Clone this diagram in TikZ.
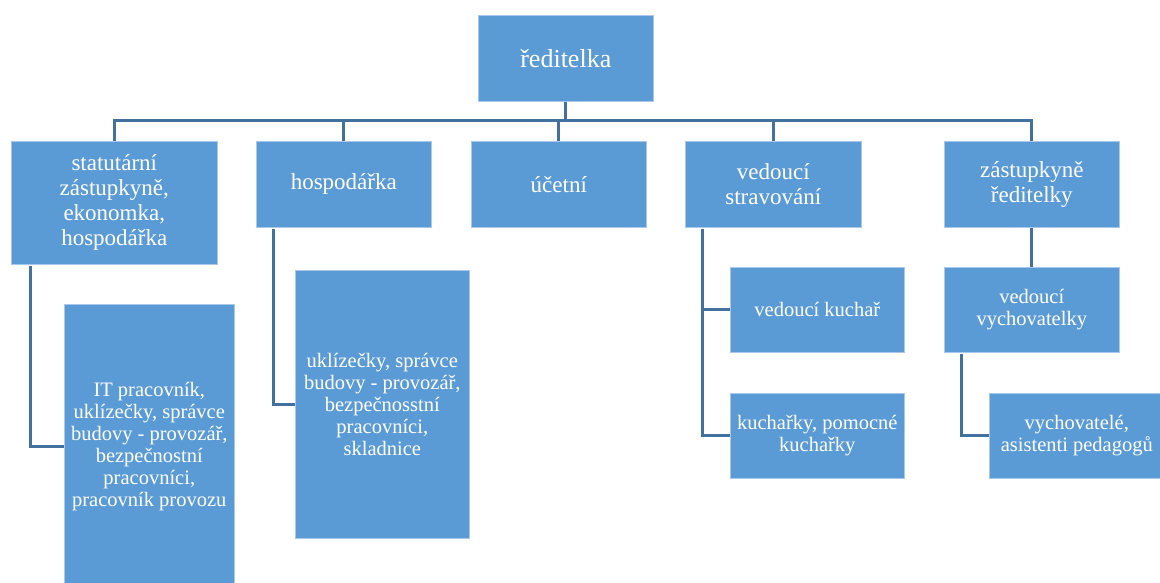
\documentclass[tikz,border=0pt]{standalone}
\usepackage{fontspec}
\setmainfont{Liberation Serif}
\definecolor{boxblue}{HTML}{5B9BD5}
\definecolor{lineblue}{HTML}{41719C}
\definecolor{edgeblue}{HTML}{A9C8EA}
\begin{document}
\begin{tikzpicture}[x=1pt,y=-1pt,
  box/.style={rectangle, fill=boxblue, draw=edgeblue, line width=0.6pt, inner sep=0pt,
    anchor=north west, align=center, text=white},
  rootfont/.style={font=\fontsize{26}{28}\selectfont},
  lvlone/.style={font=\fontsize{23}{25}\selectfont},
  lvltwo/.style={font=\fontsize{20.5}{22}\selectfont},
  conn/.style={draw=lineblue, line width=3pt}]
\useasboundingbox (0,0) rectangle (1160,583);
\clip (0,0) rectangle (1160,583);
% root
\node[box, rootfont, minimum width=175pt, minimum height=86pt] (root) at (478,15) {ředitelka};
% level 1
\node[box, lvlone, minimum width=206pt, minimum height=123pt] (stat) at (11,141) {statutární\\zástupkyně,\\ekonomka,\\hospodářka};
\node[box, lvlone, minimum width=175pt, minimum height=86pt] (hosp) at (256,141) {hospodářka};
\node[box, lvlone, minimum width=175pt, minimum height=86pt] (ucet) at (471,141) {účetní};
\node[box, lvlone, minimum width=176pt, minimum height=86pt] (strav) at (685,141) {vedoucí\\stravování};
\node[box, lvlone, minimum width=175pt, minimum height=86pt] (zast) at (944,141) {zástupkyně\\ředitelky};
% level 2
\node[box, lvltwo, minimum width=170pt, minimum height=284pt] (itp) at (64,304) {IT pracovník,\\uklízečky, správce\\budovy - provozář,\\bezpečnostní\\pracovníci,\\pracovník provozu};
\node[box, lvltwo, minimum width=174pt, minimum height=268pt] (ukl) at (295,270) {uklízečky, správce\\budovy - provozář,\\bezpečnosstní\\pracovníci,\\skladnice};
\node[box, lvltwo, minimum width=174pt, minimum height=85pt] (kuchar) at (730,267) {vedoucí kuchař};
\node[box, lvltwo, minimum width=174pt, minimum height=85pt] (kucharky) at (730,393) {kuchařky, pomocné\\kuchařky};
\node[box, lvltwo, minimum width=175pt, minimum height=85pt] (vvych) at (944,267) {vedoucí\\vychovatelky};
\node[box, lvltwo, minimum width=175pt, minimum height=85pt] (vych) at (989,393) {vychovatelé,\\asistenti pedagogů};
% connector anchors
\coordinate (bus) at (0,121);
\coordinate (sdrop) at (30,266);
\coordinate (hdrop) at (273,229);
\coordinate (vdrop) at (702,229);
\coordinate (zdrop) at (961,354);
% connectors
\draw[conn] (root.south) -- (root.south |- bus);
\draw[conn] (stat.north) -- (stat.north |- bus) -- (zast.north |- bus) -- (zast.north);
\draw[conn] (hosp.north |- bus) -- (hosp.north);
\draw[conn] (ucet.north |- bus) -- (ucet.north);
\draw[conn] (strav.north |- bus) -- (strav.north);
\draw[conn] (sdrop) |- (itp.west);
\draw[conn] (hdrop) |- (ukl.west);
\draw[conn] (vdrop) |- (kuchar.west);
\draw[conn] (vdrop) |- (kucharky.west);
\draw[conn] (zast.south) -- (vvych.north);
\draw[conn] (zdrop) |- (vych.west);
\end{tikzpicture}
\end{document}
